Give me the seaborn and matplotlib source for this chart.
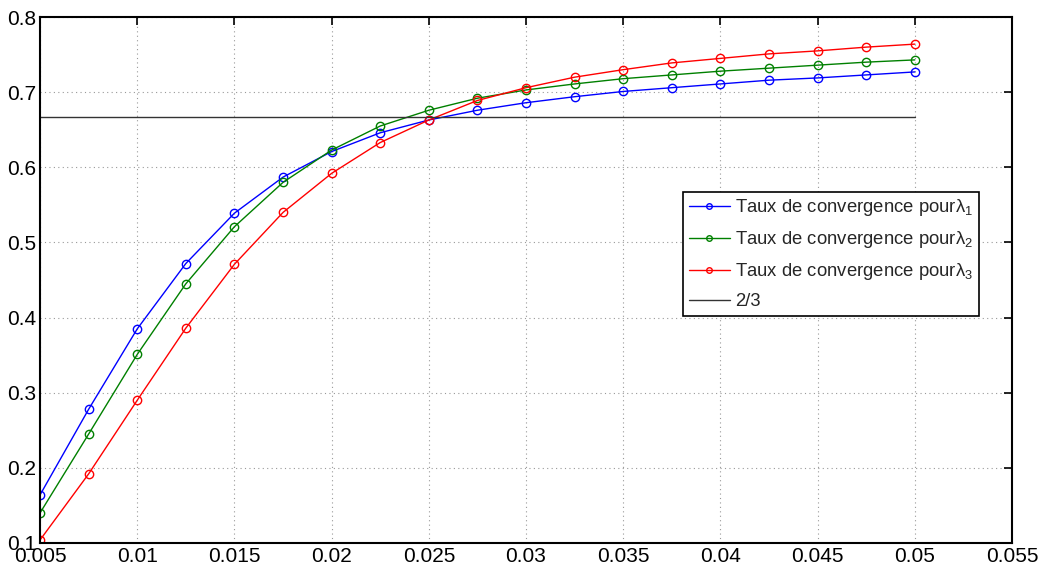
import numpy as np
import pandas as pd
import matplotlib
matplotlib.use("Agg")
import matplotlib.pyplot as plt
import seaborn as sns

x_vals = [0.005, 0.0075, 0.01, 0.0125, 0.015, 0.0175, 0.02, 0.0225, 0.025, 0.0275,
          0.03, 0.0325, 0.035, 0.0375, 0.04, 0.0425, 0.045, 0.0475, 0.05]
lambda1 = [0.164, 0.278, 0.385, 0.472, 0.539, 0.587, 0.621, 0.646, 0.663, 0.676,
           0.686, 0.694, 0.701, 0.706, 0.711, 0.716, 0.719, 0.723, 0.727]
lambda2 = [0.140, 0.245, 0.351, 0.445, 0.521, 0.580, 0.623, 0.655, 0.676, 0.692,
           0.703, 0.711, 0.718, 0.723, 0.728, 0.732, 0.736, 0.740, 0.743]
lambda3 = [0.104, 0.192, 0.290, 0.386, 0.471, 0.540, 0.592, 0.633, 0.663, 0.689,
           0.706, 0.720, 0.730, 0.739, 0.745, 0.751, 0.755, 0.760, 0.764]
labels = ["Taux de convergence pour$\\lambda_1$",
          "Taux de convergence pour$\\lambda_2$",
          "Taux de convergence pour$\\lambda_3$"]
colors = ["#0000ff", "#008000", "#ff0000"]
ref_label = "2/3"
ref_value = 2 / 3
x_ticks = [0.005, 0.01, 0.015, 0.02, 0.025, 0.03, 0.035, 0.04, 0.045, 0.05, 0.055]
y_ticks = [0.1, 0.2, 0.3, 0.4, 0.5, 0.6, 0.7, 0.8]

sns.set_style("white")
plt.rcParams['font.family'] = ['Liberation Sans', 'DejaVu Sans']
plt.rcParams['mathtext.fontset'] = 'custom'
plt.rcParams['mathtext.rm'] = 'Liberation Sans'
plt.rcParams['mathtext.it'] = 'Liberation Sans'

fig = plt.figure(figsize=(10.4, 5.69), dpi=100)
ax = fig.add_axes([0.0385, 0.0457, 0.9346, 0.9243])

for ys, lab, col in zip([lambda1, lambda2, lambda3], labels, colors):
    df = pd.DataFrame({"x": x_vals, "y": ys})
    sns.lineplot(data=df, x="x", y="y", ax=ax, color=col, marker="o",
                 markerfacecolor="none", markeredgecolor=col, markersize=6,
                 markeredgewidth=1.0, linewidth=1.0, label=lab)

df_ref = pd.DataFrame({"x": [x_vals[0], x_vals[-1]], "y": [ref_value, ref_value]})
sns.lineplot(data=df_ref, x="x", y="y", ax=ax, color="#333333", linewidth=1.0, label=ref_label)

ax.set_xlim(0.005, 0.055)
ax.set_ylim(0.1, 0.8)
ax.set_xticks(x_ticks)
ax.set_xticklabels([f"{t:g}" for t in x_ticks])
ax.set_yticks(y_ticks)
ax.set_yticklabels([f"{t:g}" for t in y_ticks])
ax.set_xlabel("")
ax.set_ylabel("")
ax.grid(True, linestyle=(0, (1, 3)), color="#999999", linewidth=0.8)
ax.tick_params(direction="in", length=6, width=1.2, top=True, right=True,
               labelsize=15, colors="black", pad=3)
for s in ax.spines.values():
    s.set_color("black")
    s.set_linewidth(1.5)

leg = ax.legend(loc="upper left", bbox_to_anchor=(0.662, 0.668), fontsize=13.3,
                frameon=True, fancybox=False, edgecolor="black", framealpha=1,
                borderpad=0.3, labelspacing=0.6, handlelength=2.2, handletextpad=0.3,
                borderaxespad=0)
leg.get_frame().set_linewidth(1.2)
for h in leg.legend_handles:
    h.set_markersize(4)

fig.savefig("out.png", dpi=100)
